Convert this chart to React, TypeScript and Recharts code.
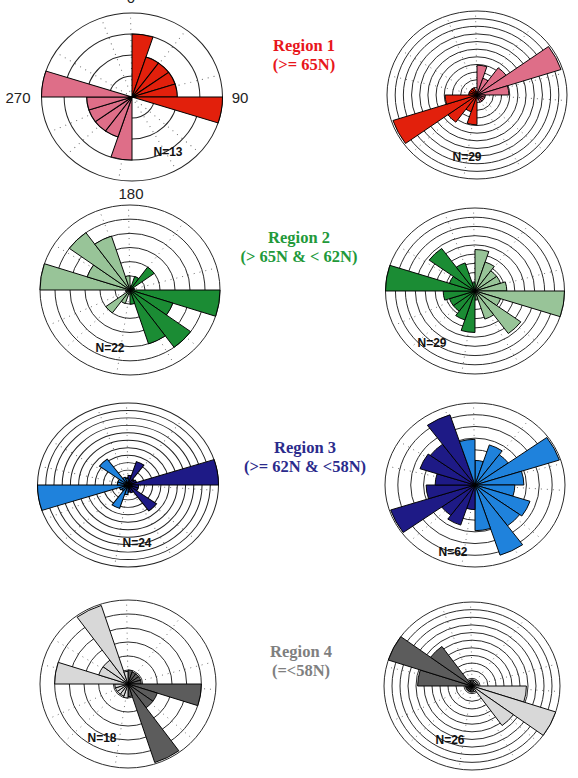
import React from 'react';
import {
  RadialBarChart, RadialBar, PolarAngleAxis, PolarRadiusAxis, PolarGrid, Cell
} from 'recharts';

// 20 bins of 18 degrees, compass order (clockwise from north)
const BINS = ['0', '18', '36', '54', '72', '90', '108', '126', '144', '162',
  '180', '198', '216', '234', '252', '270', '288', '306', '324', '342'];

// dotted spokes every 30 degrees (360 = north)
const SPOKES = [30, 60, 90, 120, 150, 180, 210, 240, 270, 300, 330, 360];

// counts per bin (axial data, so each rose is mirrored)
const region1Left = [3, 2, 2, 2, 2, 4, 0, 0, 0, 0, 3, 2, 2, 2, 2, 4, 0, 0, 0, 0];
const region1Right = [3.9, 2.3, 4.4, 10.8, 3.9, 1, 1, 1, 1, 0.5, 3.9, 2.3, 4.4, 10.8, 3.9, 1, 1, 1, 1, 0.5];
const region2Left = [0.3, 1, 2, 0.3, 0.3, 6, 3, 5, 4, 1, 0.3, 1, 2, 0.3, 0.3, 6, 3, 5, 4, 1];
const region2Right = [4.5, 3.3, 2.7, 2.7, 3.2, 9, 2.7, 5.7, 3.2, 0.9, 4.5, 3.3, 2.7, 2.7, 3.2, 9, 2.7, 5.7, 3.2, 0.9];
const region3Left = [1.3, 3.3, 0.9, 1.1, 11, 1.3, 1.3, 4.3, 1.1, 0.9, 1.3, 3.3, 0.9, 1.1, 11, 1.3, 1.3, 4.3, 1.1, 0.9];
const region3Right = [2.1, 3.6, 3.2, 6.9, 3.8, 3.1, 4.5, 4.3, 6.3, 3.9, 2.1, 3.6, 3.2, 6.9, 3.8, 3.1, 4.5, 4.3, 6.3, 3.9];
const region4Left = [1, 0.9, 0.9, 0.9, 0.9, 5, 2.1, 2.1, 5.9, 0.9, 1, 0.9, 0.9, 0.9, 0.9, 5, 2.1, 2.1, 5.9, 0.9];
const region4Right = [0.8, 0.8, 0.8, 0.8, 0.8, 6.8, 11, 6.4, 0.8, 0.8, 0.8, 0.8, 0.8, 0.8, 0.8, 6.8, 11, 6.4, 0.8, 0.8];

const ringCounts = [4, 11, 6, 9, 11, 7, 6, 11];
const sampleSizes = ['N=13', 'N=29', 'N=22', 'N=29', 'N=24', 'N=62', 'N=18', 'N=26'];

const RED = '#e2200c';
const PINK = '#de6e88';
const DKGREEN = '#1b8c34';
const LTGREEN = '#98c498';
const NAVY = '#1e1a86';
const LTBLUE = '#1f82dc';
const DKGRAY = '#5c5c5c';
const LTGRAY = '#d8d8d8';

// swap: bins drawn in the other colour of the pair
const roses = [
  { values: region1Left, east: RED, west: PINK, swap: [], cx: 132, cy: 97, rx: 90.5, ry: 84, nx: 168, ny: 152 },
  { values: region1Right, east: PINK, west: RED, swap: [], cx: 477, cy: 95, rx: 90, ry: 84, nx: 467, ny: 157 },
  { values: region2Left, east: DKGREEN, west: LTGREEN, swap: [], cx: 130, cy: 290, rx: 90, ry: 85, nx: 110, ny: 348 },
  { values: region2Right, east: LTGREEN, west: DKGREEN, swap: [], cx: 475, cy: 291, rx: 89.5, ry: 83, nx: 432, ny: 343 },
  { values: region3Left, east: NAVY, west: LTBLUE, swap: [], cx: 128, cy: 485, rx: 90.5, ry: 82, nx: 137, ny: 543 },
  { values: region3Right, east: LTBLUE, west: NAVY, swap: [19], cx: 475, cy: 485, rx: 90, ry: 82, nx: 453, ny: 552 },
  { values: region4Left, east: DKGRAY, west: LTGRAY, swap: [], cx: 128, cy: 684, rx: 88, ry: 84, nx: 102, ny: 738 },
  { values: region4Right, east: LTGRAY, west: DKGRAY, swap: [], cx: 472, cy: 686, rx: 88, ry: 84, nx: 450, ny: 740 },
];

const titles = [
  { lines: ['Region 1', '(>= 65N)'], color: '#e8161b', x: 304, y: 46 },
  { lines: ['Region 2', '(> 65N & < 62N)'], color: '#22993a', x: 299, y: 238 },
  { lines: ['Region 3', '(>= 62N & <58N)'], color: '#2b2b8c', x: 305, y: 448 },
  { lines: ['Region 4', '(=<58N)'], color: '#7f7f7f', x: 301, y: 652 },
];

const compassLabels = [
  { text: '0', x: 131, y: -3 },
  { text: '90', x: 240, y: 97 },
  { text: '270', x: 18, y: 97 },
  { text: '180', x: 131, y: 193 },
];

const SIZE = 200;
const R = 90;

type RoseProps = { values: number[]; rings: number; east: string; west: string; swap: number[] };

const Rose = ({ values, rings, east, west, swap }: RoseProps) => {
  const data = BINS.map((bin, i) => ({ bin, count: values[i] }));
  const ringTicks = Array.from({ length: rings }, (_, i) => i + 1);
  const colorOf = (i: number) => {
    const isEast = i < 10;
    const flipped = swap.includes(i);
    return isEast !== flipped ? east : west;
  };
  return (
    <RadialBarChart
      width={SIZE}
      height={SIZE}
      cx={SIZE / 2}
      cy={SIZE / 2}
      innerRadius={0}
      outerRadius={R}
      startAngle={72}
      endAngle={-288}
      layout="centric"
      data={data}
      barCategoryGap={0}
      barGap={0}
      margin={{ top: 0, right: 0, bottom: 0, left: 0 }}
    >
      <PolarAngleAxis angleAxisId={0} type="number" domain={[18, 378]} ticks={SPOKES} tick={false} axisLine={false} tickLine={false} />
      <PolarAngleAxis angleAxisId="bin" type="category" dataKey="bin" tick={false} axisLine={false} tickLine={false} />
      <PolarRadiusAxis type="number" domain={[0, rings]} ticks={ringTicks} tick={false} axisLine={false} tickLine={false} />
      <PolarGrid gridType="circle" polarRadius={[]} stroke="#666" strokeDasharray="1 5" />
      <PolarGrid gridType="circle" radialLines={false} stroke="#222" strokeWidth={1} />
      <RadialBar angleAxisId="bin" dataKey="count" isAnimationActive={false} stroke="#000" strokeWidth={1}>
        {data.map((d, i) => (
          <Cell key={`cell-${i}`} fill={colorOf(i)} />
        ))}
      </RadialBar>
    </RadialBarChart>
  );
};

const App = () => {
  return (
    <div style={{ position: 'absolute', left: 0, top: 0, width: 578, height: 778, background: '#fff', overflow: 'hidden' }}>
      {roses.map((r, i) => (
        <div
          key={`rose-${i}`}
          style={{
            position: 'absolute',
            left: r.cx - SIZE / 2,
            top: r.cy - SIZE / 2,
            width: SIZE,
            height: SIZE,
            transform: `scale(${r.rx / R}, ${r.ry / R})`,
          }}
        >
          <Rose values={r.values} rings={ringCounts[i]} east={r.east} west={r.west} swap={r.swap} />
        </div>
      ))}
      {roses.map((r, i) => (
        <div
          key={`n-${i}`}
          style={{
            position: 'absolute', left: r.nx, top: r.ny, transform: 'translate(-50%, -50%)',
            fontFamily: 'Liberation Sans, Arial, sans-serif', fontWeight: 'bold', fontSize: 12, color: '#111',
          }}
        >
          {sampleSizes[i]}
        </div>
      ))}
      {compassLabels.map((c) => (
        <div
          key={c.text}
          style={{
            position: 'absolute', left: c.x, top: c.y, transform: 'translate(-50%, -50%)',
            fontFamily: 'Liberation Sans, Arial, sans-serif', fontSize: 15, color: '#222',
          }}
        >
          {c.text}
        </div>
      ))}
      {titles.map((t) => (
        <div
          key={t.lines[0]}
          style={{
            position: 'absolute', left: t.x, top: t.y - 10, transform: 'translateX(-50%)',
            fontFamily: 'Liberation Serif, Times New Roman, serif', fontWeight: 'bold', fontSize: 16.5,
            color: t.color, textAlign: 'center', lineHeight: '19px', whiteSpace: 'nowrap',
          }}
        >
          {t.lines.map((l) => <div key={l}>{l}</div>)}
        </div>
      ))}
    </div>
  );
};

export default App;
